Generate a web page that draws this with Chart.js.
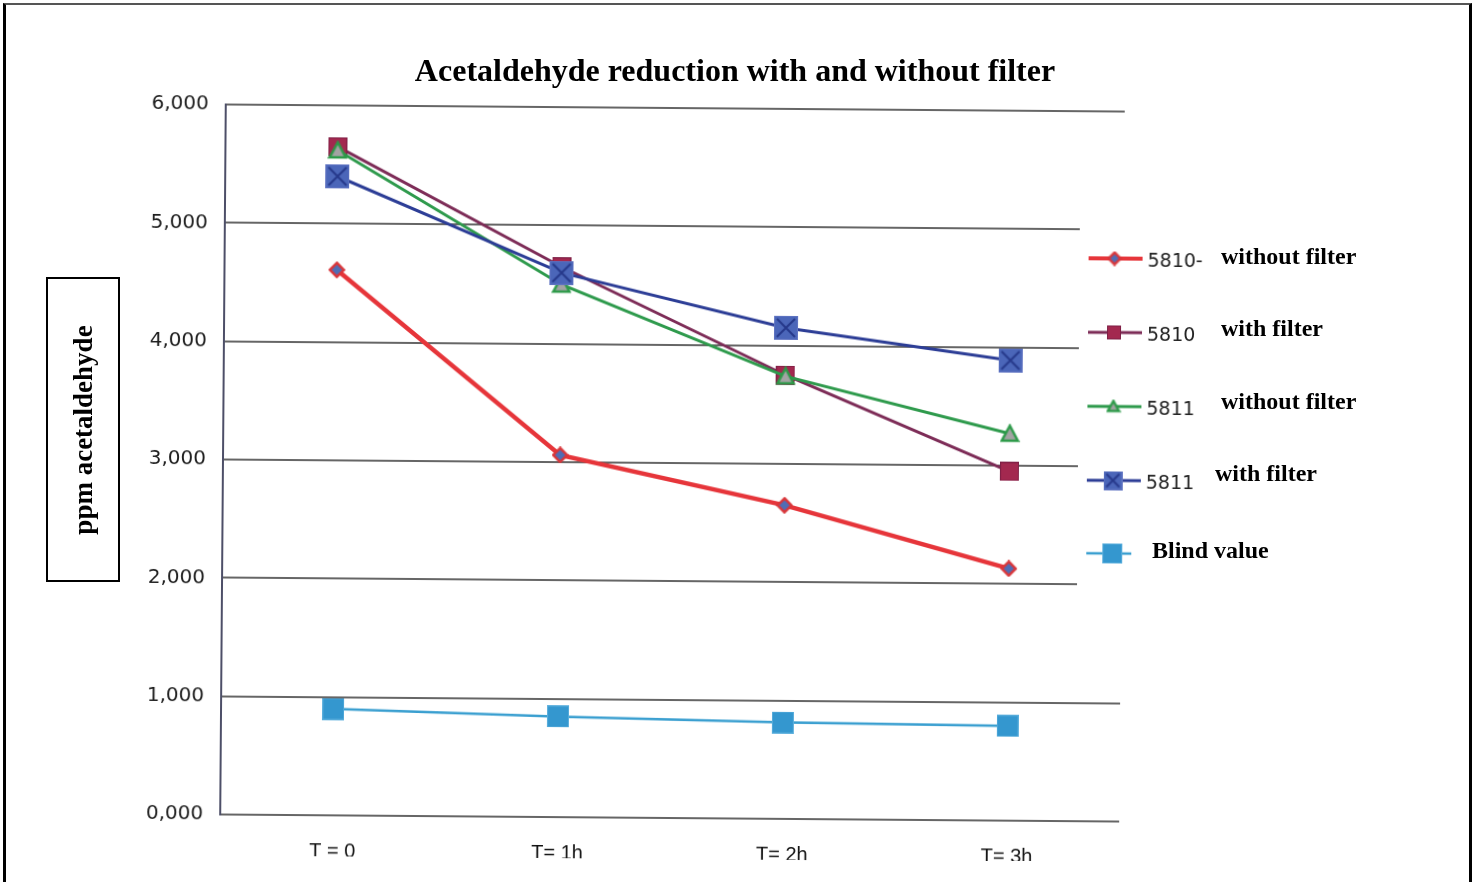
<!DOCTYPE html>
<html>
<head>
<meta charset="utf-8">
<script src="https://cdn.jsdelivr.net/npm/chart.js@4/dist/chart.umd.min.js"></script>
<style>
  html, body { margin: 0; padding: 0; background: #fff; width: 1477px; height: 882px; overflow: hidden; }
  #clip { position: absolute; left: 0; top: 0; width: 1477px; height: 861px; overflow: hidden; }
  #plot { position: absolute; left: 0; top: 0; width: 1477px; height: 882px;
          transform: rotate(0.45deg); transform-origin: 670px 460px; }
  #frame { position: absolute; left: 3px; top: 3px; width: 1463px; height: 920px;
           border-left: 3px solid #000; border-right: 3px solid #000; border-top: 2px solid #555; }
  .serif { font-family: "Liberation Serif", "Times New Roman", serif; font-weight: bold; color: #000; white-space: nowrap; }
  #title { position: absolute; left: 285px; width: 900px; top: 53px; text-align: center; font-size: 32px; line-height: 34px; }
  #ybox { position: absolute; left: 46px; top: 277px; width: 70px; height: 301px; border: 2px solid #000; }
  #ybox span { position: absolute; left: 50%; top: 50%; font-size: 27px; line-height: 28px;
               transform: translate(-50%, -50%) rotate(-90deg); }
  .note { position: absolute; font-size: 24px; line-height: 24px; }
</style>
</head>
<body>
<div id="clip"><div id="plot"><canvas id="c" width="1477" height="882"></canvas></div></div>
<div id="frame"></div>
<div id="title" class="serif">Acetaldehyde reduction with and without filter</div>
<div id="ybox" class="serif"><span>ppm acetaldehyde</span></div>
<div id="notes"></div>
<script>
// Sampling times and measured acetaldehyde (ppm)
const timeLabels = ["T = 0", "T= 1h", "T= 2h", "T= 3h"];
const s5810Without = [4610, 3060, 2650, 2130];
const s5810With    = [5650, 4650, 3750, 2950];
const s5811Without = [5620, 4500, 3740, 3270];
const s5811With    = [5400, 4600, 4150, 3890];
const blindValue   = [900, 850, 815, 800];
const yTickLabels  = ["0,000", "1,000", "2,000", "3,000", "4,000", "5,000", "6,000"];
const seriesCodes  = ["5810-", "5810", "5811", "5811", ""];
const seriesNotes  = ["without filter", "with filter", "without filter", "with filter", "Blind value"];

// Marker glyphs rendered once to small canvases
function marker(kind, s) {
  const c = document.createElement('canvas');
  c.width = s; c.height = s;
  const g = c.getContext('2d');
  const h = s / 2;
  if (kind === 'diamond') {
    g.beginPath(); g.moveTo(h, 1.5); g.lineTo(s - 1.5, h); g.lineTo(h, s - 1.5); g.lineTo(1.5, h); g.closePath();
    g.fillStyle = '#4f6db5'; g.fill(); g.lineWidth = 2.5; g.strokeStyle = '#d9363a'; g.stroke();
  } else if (kind === 'square') {
    g.fillStyle = '#a3284f'; g.fillRect(0, 0, s, s);
    g.lineWidth = 1; g.strokeStyle = '#7e1f45'; g.strokeRect(0.5, 0.5, s - 1, s - 1);
  } else if (kind === 'triangle') {
    g.beginPath(); g.moveTo(h, 2); g.lineTo(s - 2, s - 3); g.lineTo(2, s - 3); g.closePath();
    g.fillStyle = '#a3a3a3'; g.fill(); g.lineWidth = 2.5; g.strokeStyle = '#2c9a48'; g.stroke();
  } else if (kind === 'xsquare') {
    g.fillStyle = '#4b66b9'; g.fillRect(0, 0, s, s);
    g.lineWidth = 1; g.strokeStyle = '#6074c2'; g.strokeRect(0.5, 0.5, s - 1, s - 1);
    g.beginPath(); g.moveTo(3, 3); g.lineTo(s - 3, s - 3); g.moveTo(s - 3, 3); g.lineTo(3, s - 3);
    g.lineWidth = 2; g.strokeStyle = '#26388a'; g.stroke();
  } else if (kind === 'blind') {
    g.fillStyle = '#3497cf'; g.fillRect(0, 0, s, s);
    g.lineWidth = 1; g.strokeStyle = '#5aaedc'; g.strokeRect(0.5, 0.5, s - 1, s - 1);
  }
  return c;
}

const series = [
  { data: s5810Without, color: '#e6353a', width: 4.5, kind: 'diamond', size: 17, legSize: 15, order: 0 },
  { data: s5810With,    color: '#7d2c57', width: 3, kind: 'square',  size: 19, legSize: 14, order: 3 },
  { data: s5811Without, color: '#2e9a4c', width: 3, kind: 'triangle', size: 20, legSize: 15, order: 2 },
  { data: s5811With,    color: '#2c3d96', width: 3, kind: 'xsquare', size: 24, legSize: 19, order: 1 },
  { data: blindValue,   color: '#3a9fd0', width: 2.5, kind: 'blind', size: 22, legSize: 20, order: 0 }
];

const datasets = series.map((s, i) => ({
  label: (seriesCodes[i] + ' ' + seriesNotes[i]).trim(),
  data: s.data,
  borderColor: s.color,
  borderWidth: s.width,
  backgroundColor: s.color,
  pointStyle: marker(s.kind, s.size),
  pointRadius: s.size / 2,
  tension: 0,
  fill: false,
  order: s.order,
  legendGlyph: marker(s.kind, s.legSize),
  legendLineEnd: s.kind === 'blind' ? 1132 : 1141
}));

// Legend rows at the right of the plot, drawn on a white panel
const legendRows = [255, 329, 403, 477, 550];
const sideLegend = {
  id: 'sideLegend',
  afterDraw(chart) {
    const ctx = chart.ctx;
    ctx.save();
    ctx.fillStyle = '#fff';
    ctx.fillRect(1078, 195, 60, 410);
    chart.data.datasets.forEach((ds, i) => {
      const y = legendRows[i];
      ctx.beginPath();
      ctx.moveTo(1087, y); ctx.lineTo(ds.legendLineEnd, y);
      ctx.lineWidth = Math.min(ds.borderWidth, 4); ctx.strokeStyle = ds.borderColor; ctx.stroke();
      const g = ds.legendGlyph;
      ctx.drawImage(g, 1113 - g.width / 2, y - g.height / 2);
      if (seriesCodes[i]) {
        ctx.font = '19px "DejaVu Sans", Verdana, sans-serif';
        ctx.fillStyle = '#222';
        ctx.textBaseline = 'middle';
        ctx.fillText(seriesCodes[i], 1146, y + 3);
      }
    });
    ctx.restore();
  }
};

new Chart(document.getElementById('c'), {
  type: 'line',
  data: { labels: timeLabels, datasets },
  options: {
    responsive: false,
    animation: false,
    devicePixelRatio: 1,
    layout: { padding: { left: 0, top: 108, right: 355, bottom: 23 } },
    plugins: { legend: { display: false }, tooltip: { enabled: false }, title: { display: false } },
    scales: {
      x: {
        type: 'category',
        offset: true,
        grid: { display: false, drawTicks: false },
        border: { display: false },
        ticks: {
          padding: 24,
          color: '#111',
          font: { family: '"Liberation Sans Narrow", "Liberation Sans", Arial, sans-serif', size: 20 }
        },
        afterFit(scale) { scale.height = 41; }
      },
      y: {
        min: 0, max: 6000,
        ticks: {
          stepSize: 1000,
          padding: 17,
          color: '#1e1e1e',
          font: { family: '"DejaVu Sans", Verdana, sans-serif', size: 20 },
          callback: (v) => yTickLabels[Math.round(v / 1000)]
        },
        grid: { color: '#666', lineWidth: 2, drawTicks: false },
        border: { display: true, color: '#4d4f68', width: 2 },
        afterFit(scale) { scale.width = 223; }
      }
    }
  },
  plugins: [sideLegend]
});

// Descriptive legend text beside each series code
const notePos = [[1221, 256], [1221, 328], [1221, 401], [1215, 473], [1152, 550]];
const notesEl = document.getElementById('notes');
seriesNotes.forEach((t, i) => {
  const d = document.createElement('div');
  d.className = 'note serif';
  d.textContent = t;
  d.style.left = notePos[i][0] + 'px';
  d.style.top = (notePos[i][1] - 12) + 'px';
  notesEl.appendChild(d);
});
</script>
</body>
</html>
